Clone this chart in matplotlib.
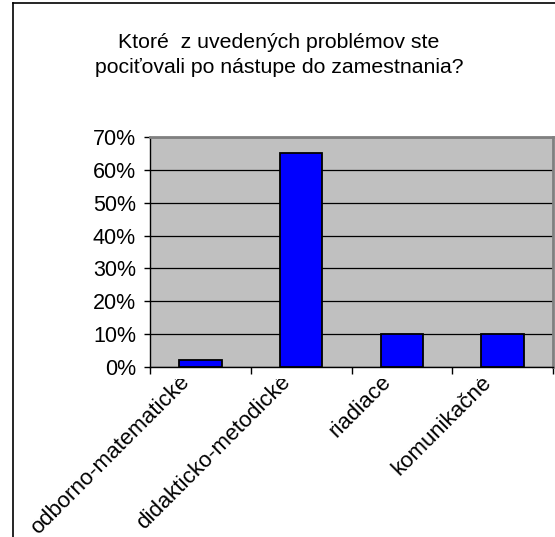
import matplotlib
matplotlib.use('Agg')
from matplotlib import pyplot as plt
from matplotlib.lines import Line2D
from matplotlib.transforms import Bbox, TransformedBbox, ScaledTranslation, blended_transform_factory
from matplotlib.ticker import FuncFormatter
import numpy as np

# data
kategorie = ['odborno-matematické', 'didakticko-metodické', 'riadiace', 'komunikačné']
hodnoty = [0.02, 0.65, 0.10, 0.10]
y_ticks = [0.0, 0.1, 0.2, 0.3, 0.4, 0.5, 0.6, 0.7]
nadpis = 'Ktoré  z uvedených problémov ste\npociťovali po nástupe do zamestnania?'

plt.rcParams['font.family'] = ['Liberation Sans', 'DejaVu Sans']

W, H = 555, 537
fig = plt.figure(figsize=(W / 100, H / 100), dpi=100)

# ramcek okolo grafu
fig.add_artist(Line2D([12.5 / W, 12.5 / W], [0, 1 - 3 / H], color='black', lw=1.2))
fig.add_artist(Line2D([12.5 / W, 1], [1 - 3 / H, 1 - 3 / H], color='black', lw=1.2))

fig.text(0.503, 1 - 55 / H, nadpis, ha='center', va='center',
         fontsize=15.3, linespacing=1.45)

ax = fig.add_axes([150 / W, 1 - 367 / H, 403 / W, 230 / H])
ax.set_facecolor('#C0C0C0')

x = np.arange(len(kategorie))
ax.bar(x, hodnoty, width=0.42, color='#0000FF', edgecolor='black', linewidth=1.3, zorder=3)

ax.set_xlim(-0.5, len(kategorie) - 0.5)
ax.set_ylim(0, 0.7)
ax.set_yticks(y_ticks)
ax.yaxis.set_major_formatter(FuncFormatter(lambda v, p: '{:.0%}'.format(v)))
ax.grid(axis='y', color='black', lw=0.9, zorder=1)

ax.set_xticks(np.arange(-0.5, len(kategorie)))
ax.set_xticklabels([])
ax.tick_params(axis='x', length=5, width=1, direction='out')
ax.tick_params(axis='y', length=4.5, width=1, direction='out', labelsize=15.5, pad=5.5)

for s in ['top', 'right']:
    ax.spines[s].set_color('#808080')
    ax.spines[s].set_linewidth(2)
for s in ['left', 'bottom']:
    ax.spines[s].set_color('black')
    ax.spines[s].set_linewidth(1)

# popisky kategorii, orezane tesne pod osou
clip = TransformedBbox(Bbox([[0, 0], [1, 1 - 379 / H]]), fig.transFigure)
trans = blended_transform_factory(ax.transData, ax.transAxes) + \
    ScaledTranslation(-14 / 100, -12 / 100, fig.dpi_scale_trans)
for i, k in enumerate(kategorie):
    t = ax.text(i, 0, k, transform=trans, rotation=45, rotation_mode='anchor',
                ha='right', va='center', fontsize=16)
    t.set_clip_on(True)
    t.set_clip_box(clip)

fig.savefig('out.png', dpi=100)
